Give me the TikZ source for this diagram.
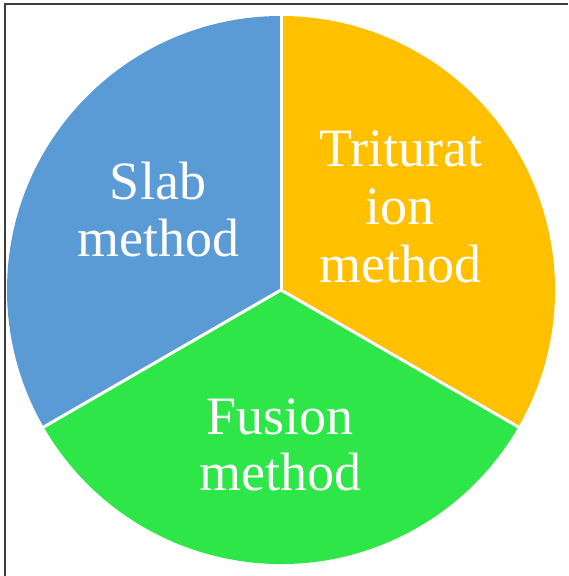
\documentclass[tikz,border=0pt]{standalone}
\usepackage{fontspec}
\setmainfont{Liberation Serif}
\usetikzlibrary{calc}
\definecolor{slabblue}{RGB}{91,155,213}
\definecolor{tritorange}{RGB}{255,192,0}
\definecolor{fusgreen}{RGB}{46,230,72}
\definecolor{framegray}{RGB}{60,60,60}
\tikzset{
  lbl/.style={text=white, font=\fontsize{54}{57}\selectfont, anchor=base, inner sep=0pt},
  sep/.style={draw=white, line width=3pt}
}
\begin{document}
\begin{tikzpicture}[x=1pt,y=1pt]
\useasboundingbox (0,0) rectangle (568,576);
\fill[white] (0,0) rectangle (568,576);
\draw[framegray, line width=1.5pt] (5,0) -- (5,572) -- (568,572);
\coordinate (c) at (281,286);
\def\R{274}
\fill[slabblue] (c) -- ++(90:\R) arc[start angle=90, end angle=210, radius=\R] -- cycle;
\fill[tritorange] (c) -- ++(-30:\R) arc[start angle=-30, end angle=90, radius=\R] -- cycle;
\fill[fusgreen] (c) -- ++(210:\R) arc[start angle=210, end angle=330, radius=\R] -- cycle;
\coordinate (e1) at ($(c)+(90:\R+1)$);
\coordinate (e2) at ($(c)+(210:\R+1)$);
\coordinate (e3) at ($(c)+(330:\R+1)$);
\draw[sep] (c) -- (e1);
\draw[sep] (c) -- (e2);
\draw[sep] (c) -- (e3);
\node[lbl] (slab1) at (158,376) {Slab};
\node[lbl] (slab2) at (158,319) {method};
\node[lbl] (trit1) at (401,409) {Triturat};
\node[lbl] (trit2) at (400,351) {ion};
\node[lbl] (trit3) at (400,293) {method};
\node[lbl] (fus1) at (280,141) {Fusion};
\node[lbl] (fus2) at (280,85) {method};
\end{tikzpicture}
\end{document}
